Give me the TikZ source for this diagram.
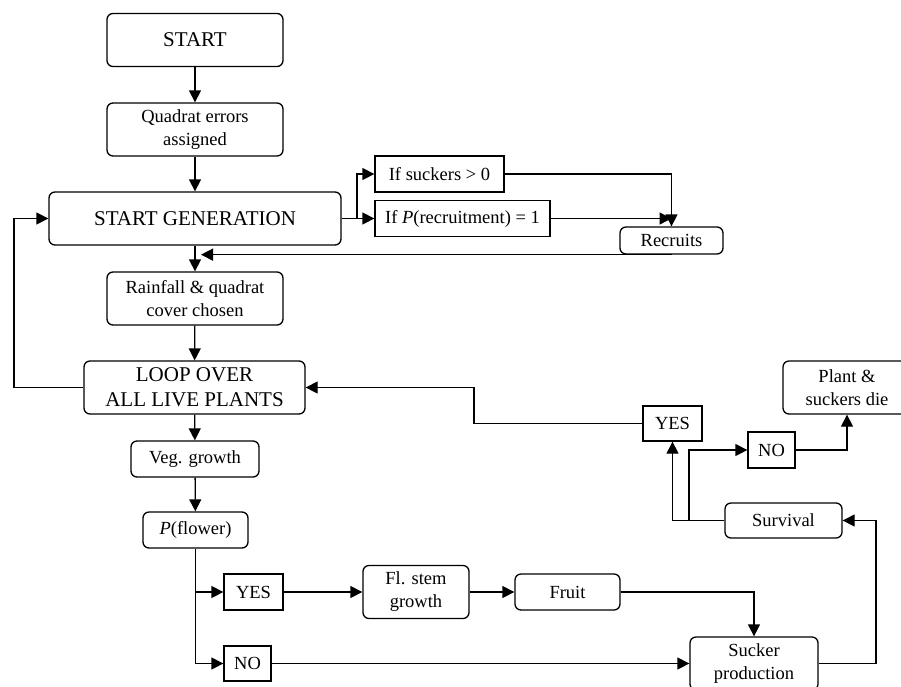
\documentclass[tikz,border=0pt]{standalone}
\usepackage{fontspec}
\setmainfont{Liberation Serif}
\usetikzlibrary{positioning, arrows.meta, calc}

\begin{document}
\begin{tikzpicture}[
    x=1pt, y=-1pt,
    line width=1.3pt,
    >={Triangle[length=12pt, width=12pt]},
    process/.style={rectangle, draw, rounded corners=6pt, align=center, inner sep=0pt, font=\fontsize{18.5}{23}\selectfont},
    bigproc/.style={process, font=\fontsize{21}{25}\selectfont},
    decision/.style={rectangle, draw, align=center, inner sep=0pt, font=\fontsize{18.5}{23}\selectfont}
]
    \useasboundingbox (0,0) rectangle (901,686);

    % Main column
    \node[bigproc, minimum width=176pt, minimum height=53pt] (start) at (195,40) {START};
    \node[process, minimum width=176pt, minimum height=53pt] (quadrat) at (195,129.5) {Quadrat errors\\assigned};
    \node[bigproc, minimum width=292pt, minimum height=53pt] (startgen) at (195,218.5) {START GENERATION};
    \node[process, minimum width=176pt, minimum height=53pt] (rainfall) at (195,298.5) {Rainfall \& quadrat\\cover chosen};
    \node[bigproc, minimum width=221pt, minimum height=53pt] (loop) at (194.5,387.5) {LOOP OVER\\ALL LIVE PLANTS};
    \node[process, minimum width=128pt, minimum height=36pt] (veg) at (195,459) {Veg. growth};
    \node[process, minimum width=105pt, minimum height=36pt] (pflower) at (195.5,530) {\textit{P}(flower)};

    % Recruitment
    \node[decision, minimum width=129pt, minimum height=36pt] (ifsuckers) at (439.5,174) {If suckers > 0};
    \node[decision, minimum width=175pt, minimum height=36pt] (ifrecruit) at (462.5,218.5) {If \textit{P}(recruitment) = 1};
    \node[process, minimum width=103pt, minimum height=27pt] (recruits) at (671.5,240.5) {Recruits};

    % Flowering branch
    \node[decision, minimum width=59pt, minimum height=36pt] (yesflower) at (253.5,592) {YES};
    \node[decision, minimum width=47pt, minimum height=35pt] (noflower) at (247.5,663.5) {NO};
    \node[process, minimum width=106pt, minimum height=53pt] (flstem) at (416,592) {Fl. stem\\growth};
    \node[process, minimum width=105pt, minimum height=36pt] (fruit) at (567.5,592) {Fruit};
    \node[process, minimum width=128pt, minimum height=53pt] (sucker) at (754,663.5) {Sucker\\production};

    % Survival
    \node[process, minimum width=117pt, minimum height=35pt] (survival) at (783.5,520.5) {Survival};
    \node[decision, minimum width=59pt, minimum height=35pt] (yessurv) at (672.5,423.5) {YES};
    \node[decision, minimum width=47pt, minimum height=36pt] (nosurv) at (771.5,450) {NO};
    \node[process, minimum width=128pt, minimum height=53pt] (plantdie) at (847,387.5) {Plant \&\\suckers die};

    % Bend points
    \coordinate (sgsplit) at (357,218.5);
    \coordinate (loopleft) at (14,387.5);
    \coordinate (pfjoin) at (195.5,592);
    \coordinate (suckright) at (876,663.5);
    \coordinate (survsplit) at (689,520.5);
    \coordinate (yesbend) at (474,423.5);

    % Connections
    \draw[->] (start) -- (quadrat);
    \draw[->] (quadrat) -- (startgen);
    \draw[->] (startgen) -- (rainfall);
    \draw[->] (rainfall) -- (loop);
    \draw[->] (loop) -- (veg);
    \draw[->] (veg) -- (pflower);

    \draw (startgen.east) -- (sgsplit);
    \draw[->] (sgsplit) |- (ifsuckers.west);
    \draw[->] (sgsplit) -- (ifrecruit.west);
    \draw[->] (ifsuckers.east) -| (recruits.north);
    \draw[->] (ifrecruit.east) -- (ifrecruit.east -| recruits.north);
    \draw[->, shorten >=6pt] (recruits.south) -- (recruits.south -| startgen.south);
    \draw[->] (loop.west) -- (loopleft) |- (startgen.west);

    \draw[->] (pflower.south) |- (noflower.west);
    \draw[->] (pfjoin) -- (yesflower.west);
    \draw[->] (yesflower) -- (flstem);
    \draw[->] (flstem) -- (fruit);
    \draw[->] (fruit.east) -| (sucker.north);
    \draw[->] (noflower) -- (sucker);

    \draw[->] (sucker.east) -- (suckright) |- (survival.east);
    \draw[->] (survival.west) -| (yessurv.south);
    \draw[->] (survsplit) |- (nosurv.west);
    \draw[->] (nosurv.east) -| (plantdie.south);
    \draw[->] (yessurv.west) -- (yesbend) |- (loop.east);
\end{tikzpicture}
\end{document}
